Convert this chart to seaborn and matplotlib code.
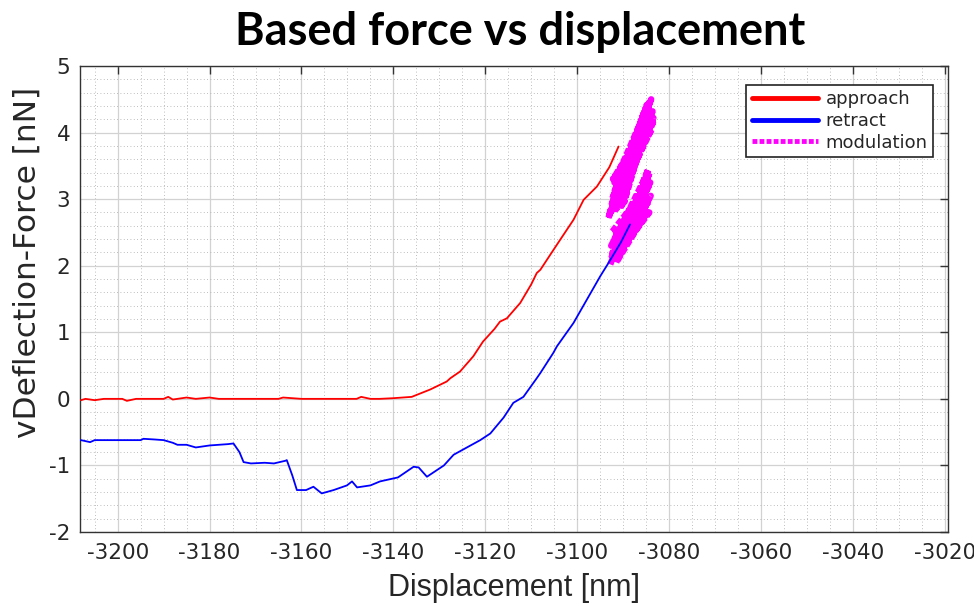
import numpy as np
import pandas as pd
import matplotlib
matplotlib.use("Agg")
import matplotlib.pyplot as plt
from matplotlib.ticker import MultipleLocator
from matplotlib.lines import Line2D
import seaborn as sns

# ---------------- data ----------------
approach_x = [-3208, -3207, -3205, -3203, -3199, -3198, -3196, -3190, -3189, -3188,
              -3185, -3183, -3180, -3178, -3165, -3164, -3160, -3148, -3147, -3145,
              -3143, -3140, -3136, -3132, -3128.4, -3127.6, -3125.5, -3122.6, -3120.5,
              -3118, -3116.8, -3115.3, -3112.4, -3110, -3108.8, -3108.0, -3106,
              -3103.7, -3100.8, -3098.6, -3095.7, -3093, -3091.0]
approach_y = [-0.02, 0.0, -0.02, 0.0, 0.0, -0.03, 0.0, 0.0, 0.03, -0.01,
              0.02, 0.0, 0.02, 0.0, 0.0, 0.02, 0.0, 0.0, 0.03, 0.0,
              0.0, 0.01, 0.03, 0.14, 0.26, 0.31, 0.41, 0.64, 0.86,
              1.05, 1.16, 1.21, 1.44, 1.72, 1.89, 1.94, 2.15,
              2.39, 2.69, 2.99, 3.19, 3.48, 3.79]

retract_x = [-3208, -3206, -3205, -3200, -3195, -3194.4, -3192, -3190, -3188, -3187,
             -3185, -3183, -3180, -3176, -3174.8, -3173.5, -3172.6, -3171, -3168,
             -3166, -3163.5, -3163.2, -3162, -3161, -3159, -3157.4, -3155.6, -3153,
             -3150.1, -3149, -3147.9, -3145, -3142.9, -3139, -3135.6, -3134.5,
             -3132.7, -3129, -3126.9, -3124, -3121.1, -3118.9, -3116, -3113.9,
             -3111.7, -3108.8, -3108, -3105.2, -3104.4, -3100.8, -3097.9, -3095.0,
             -3093.2, -3090.5, -3088.5]
retract_y = [-0.62, -0.65, -0.62, -0.62, -0.62, -0.60, -0.61, -0.62, -0.66, -0.69,
             -0.69, -0.73, -0.70, -0.68, -0.67, -0.80, -0.95, -0.97, -0.96,
             -0.97, -0.93, -0.92, -1.15, -1.37, -1.37, -1.32, -1.42, -1.37,
             -1.30, -1.24, -1.33, -1.30, -1.24, -1.18, -1.02, -1.03,
             -1.17, -1.00, -0.84, -0.73, -0.62, -0.52, -0.28, -0.06,
             0.03, 0.31, 0.39, 0.69, 0.79, 1.14, 1.49, 1.84,
             2.04, 2.35, 2.62]

# modulation: zig-zag turning points of the oscillation (upper and lower lobes)
mod_upper_x = [-3093.2, -3083.9, -3092.6, -3084.5, -3092.0, -3083.4, -3091.5, -3085.5,
               -3090.8, -3084.0, -3092.9, -3084.2, -3091.9, -3085.0, -3090.3, -3083.6,
               -3092.4, -3084.8, -3091.2, -3083.8, -3093.0, -3085.8, -3090.6, -3084.3,
               -3089.8, -3086.4, -3092.2, -3083.5, -3090.0, -3085.2]
mod_upper_y = [2.72, 4.50, 2.90, 4.40, 3.10, 4.22, 2.85, 4.30,
               2.95, 4.10, 2.80, 4.47, 3.25, 4.15, 2.90, 4.32,
               3.00, 4.42, 3.15, 4.05, 2.76, 4.20, 3.05, 4.25,
               2.95, 3.95, 3.30, 4.15, 3.10, 4.00]
mod_lower_x = [-3092.8, -3084.5, -3092.2, -3084.1, -3091.5, -3084.4, -3092.6, -3085.0,
               -3090.8, -3084.0, -3091.9, -3085.4, -3092.4, -3084.6, -3091.0, -3084.2,
               -3092.7, -3085.2, -3090.5, -3084.0, -3091.7, -3084.8, -3092.0, -3084.3,
               -3089.8, -3085.6, -3092.5, -3084.6]
mod_lower_y = [2.02, 3.45, 2.12, 3.25, 2.05, 2.85, 2.30, 3.35,
               2.15, 3.05, 2.40, 3.15, 2.18, 2.95, 2.30, 3.40,
               2.10, 2.90, 2.25, 3.30, 2.22, 3.10, 2.35, 2.80,
               2.30, 2.70, 2.50, 3.20]

x_ticks = [-3200, -3180, -3160, -3140, -3120, -3100, -3080, -3060, -3040, -3020]
y_ticks = [-2, -1, 0, 1, 2, 3, 4, 5]

# ---------------- styling ----------------
sns.set_style("white")
plt.rcParams["font.family"] = ["DejaVu Sans"]

fig = plt.figure(figsize=(9.74, 6.10), dpi=100)
ax = fig.add_axes([80 / 974, 1 - 532 / 610, 868 / 974, 466 / 610])

RED = "#ff0000"
BLUE = "#0000ff"
MAG = "#ff00ff"

df_app = pd.DataFrame({"x": approach_x, "y": approach_y})
df_ret = pd.DataFrame({"x": retract_x, "y": retract_y})
df_mu = pd.DataFrame({"x": mod_upper_x, "y": mod_upper_y})
df_ml = pd.DataFrame({"x": mod_lower_x, "y": mod_lower_y})

sns.lineplot(data=df_app, x="x", y="y", ax=ax, color=RED, lw=1.3,
             sort=False, estimator=None, zorder=3)
mod_style = dict(color=MAG, lw=4.6, linestyle=(0, (1, 0.35)),
                 sort=False, estimator=None, zorder=4)
sns.lineplot(data=df_mu, x="x", y="y", ax=ax, **mod_style)
sns.lineplot(data=df_ml, x="x", y="y", ax=ax, **mod_style)
sns.lineplot(data=df_ret, x="x", y="y", ax=ax, color=BLUE, lw=1.3,
             sort=False, estimator=None, zorder=5)

ax.set_xlim(-3208.2, -3019.3)
ax.set_ylim(-2, 5)
ax.set_xticks(x_ticks)
ax.set_yticks(y_ticks)
ax.set_xticklabels([str(t) for t in x_ticks])
ax.set_yticklabels([str(t) for t in y_ticks])
ax.xaxis.set_minor_locator(MultipleLocator(5))
ax.yaxis.set_minor_locator(MultipleLocator(0.2))

ax.grid(True, which="major", color="#d2d2d2", lw=0.9, linestyle="-", zorder=0)
ax.grid(True, which="minor", color="#a8a8a8", lw=0.6, linestyle=(0, (1, 3)), zorder=0)
ax.set_axisbelow(True)

tick_family = ["Liberation Sans Narrow", "DejaVu Sans"]
ax.tick_params(which="major", direction="in", length=6, width=1, color="#333333",
               top=True, right=True, labelcolor="#262626")
ax.tick_params(which="minor", length=0, top=True, right=True)
ax.tick_params(axis="x", pad=8)
ax.tick_params(axis="y", pad=7)
for lab in ax.get_xticklabels() + ax.get_yticklabels():
    lab.set_fontfamily(tick_family)
    lab.set_fontsize(15.5)

for s in ax.spines.values():
    s.set_color("#333333")
    s.set_linewidth(1.0)
    s.set_visible(True)

ax.set_xlabel("Displacement [nm]", fontsize=22, color="#262626",
              family=["Liberation Sans", "DejaVu Sans"], va="top")
ax.xaxis.set_label_coords(0.5, -0.088)
ax.set_ylabel("vDeflection-Force [nN]", fontsize=22.5, color="#262626",
              family=["DejaVu Sans"])
ax.yaxis.set_label_coords(-0.044, 0.579)

ax.set_title("Based force vs displacement", fontsize=32.5, fontweight="bold",
             family=["Lato", "DejaVu Sans"], color="black", pad=15, x=0.507)

handles = [Line2D([], [], color=RED, lw=3.5),
           Line2D([], [], color=BLUE, lw=3.5),
           Line2D([], [], color=MAG, lw=3.5, linestyle=(0, (1, 0.45)))]
leg = ax.legend(handles, ["approach", "retract", "modulation"],
                loc="upper right", bbox_to_anchor=(0.9827, 0.9592),
                borderaxespad=0, frameon=True, fancybox=False,
                prop=dict(family="DejaVu Sans", size=13),
                handlelength=3.7, handletextpad=0.4, labelspacing=0.2,
                borderpad=0.3)
leg.get_frame().set_edgecolor("#222222")
leg.get_frame().set_linewidth(1.2)
leg.get_frame().set_alpha(1)
for t in leg.get_texts():
    t.set_color("#262626")

fig.savefig("out.png", dpi=100, facecolor="white")
